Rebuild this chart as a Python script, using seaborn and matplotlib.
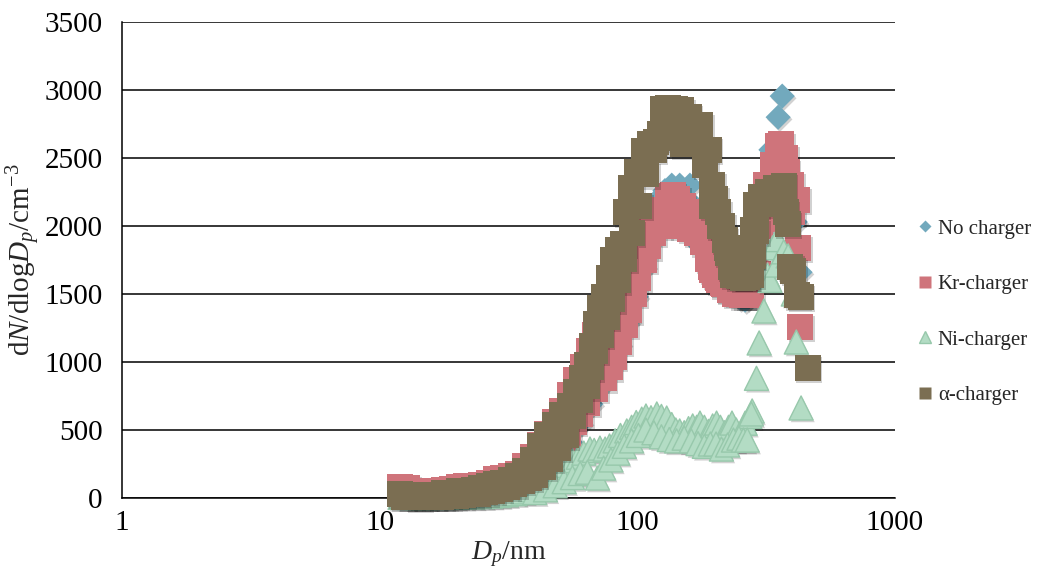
import matplotlib
matplotlib.use("Agg")
import matplotlib.pyplot as plt
import matplotlib.patheffects as pe
from matplotlib.lines import Line2D
from matplotlib.ticker import FixedLocator, FixedFormatter, NullLocator
import pandas as pd
import seaborn as sns

# ---- particle size distributions (two scans per charger, dN/dlogDp in cm^-3) ----
nocharger_dp = [12.0, 13.0, 14.0, 15.0, 16.0, 17.5, 19.0, 20.5, 22.0, 24.0, 26.0, 28.0, 30.0, 32.5,
                35.0, 37.5, 40.0, 43.0, 46.0, 49.0, 52.0, 55.5, 59.0, 63.0, 67.0, 71.0, 75.0, 79.0,
                83.0, 88.0, 93.0, 98.0, 103.0, 107.0, 114.0, 121.0, 128.0, 136.0, 146.0, 160.0,
                170.0, 178.0, 186.0, 194.0, 203.0, 214.0, 226.0, 240.0, 252.0, 262.0, 275.0, 290.0,
                310.0, 330.0, 338.0, 352.0, 365.0, 385.0, 410.0, 428.0,
                45.0, 50.0, 55.0, 60.0, 66.0, 72.0, 78.0, 85.0, 92.0, 99.0, 106.0, 114.0, 122.0,
                131.0, 141.0, 152.0, 164.0, 176.0, 188.0, 200.0, 215.0, 232.0, 250.0, 268.0, 285.0,
                305.0, 325.0, 345.0, 370.0, 395.0]
nocharger_dn = [40, 30, 25, 25, 30, 35, 40, 45, 55, 65, 80, 100, 115, 140,
                170, 220, 290, 370, 450, 530, 620, 730, 850, 980, 1120, 1260, 1400, 1530,
                1650, 1760, 1850, 1930, 2000, 2040, 2120, 2200, 2260, 2300, 2300, 2300,
                2130, 2000, 1880, 1760, 1680, 1610, 1560, 1510, 1480, 1455, 1560, 1900,
                2250, 2560, 2500, 2800, 2955, 2375, 2030, 1660,
                170, 290, 410, 550, 690, 830, 960, 1130, 1300, 1480, 1700, 1900, 2000,
                2080, 2060, 2020, 1960, 1850, 1720, 1630, 1560, 1500, 1470, 1470, 1650,
                2000, 2300, 2450, 2350, 2100]

kr_dp = [12.0, 12.8, 13.7, 14.6, 15.6, 16.7, 17.8, 19.0, 20.3, 21.7, 23.2, 24.8, 26.5, 28.3,
         30.2, 32.3, 34.5, 36.8, 39.3, 42.0, 44.8, 48.0, 51.2, 54.8, 58.0, 61.5, 65.0, 68.5,
         72.0, 76.0, 80.0, 84.0, 88.0, 92.0, 96.0, 100.0, 104.0, 108.0, 113.0, 118.0, 124.0,
         131.0, 137.0, 143.0, 150.0, 158.0, 166.0, 175.0, 182.0, 188.0, 194.0, 200.0, 208.0,
         216.0, 228.0, 240.0, 255.0, 270.0, 285.0, 300.0, 315.0, 335.0, 350.0, 362.0, 375.0,
         395.0, 417.0, 420.0, 428.0,
         45.0, 48.0, 51.0, 54.0, 56.6, 60.0, 64.0, 68.6, 74.0, 78.0, 81.0, 85.0, 89.5, 93.0,
         97.0, 101.0, 106.0, 110.0, 115.0, 122.0, 130.0, 140.0, 150.0, 160.0, 170.0, 180.0,
         188.0, 195.0, 205.0, 215.0, 228.0, 245.0, 262.0, 277.0, 295.0, 312.0, 330.0, 345.0,
         365.0, 380.0, 400.0]
kr_dn = [80, 75, 50, 45, 48, 55, 60, 65, 78, 85, 85, 95, 110, 140,
         150, 165, 180, 235, 300, 390, 470, 560, 640, 760, 870, 960, 1080, 1200,
         1330, 1470, 1560, 1620, 1700, 1780, 1850, 1900, 1950, 2000, 2050, 2080, 2120,
         2220, 2230, 2200, 2150, 2100, 2050, 2000, 1900, 1800, 1700, 1640, 1600,
         1570, 1530, 1500, 1490, 1490, 1700, 2000, 2300, 2450, 2590, 2600, 2500,
         2300, 2190, 1840, 1257,
         180, 250, 330, 420, 560, 620, 700, 800, 880, 960, 1040, 1150, 1270, 1380,
         1500, 1620, 1750, 1850, 1950, 2000, 2050, 2050, 2000, 1980, 1950, 1880,
         1760, 1680, 1620, 1580, 1540, 1510, 1490, 1490, 1650, 2050, 2200, 2350,
         2480, 2400, 2100]

ni_dp = [12.0, 13.0, 14.0, 15.0, 16.5, 18.0, 19.5, 21.0, 23.0, 25.0, 27.0, 29.0, 31.0, 33.5,
         36.0, 38.5, 41.0, 44.0, 47.0, 50.0, 53.0, 56.0, 59.0, 62.0, 65.5, 68.0, 71.6, 75.0,
         78.0, 82.0, 86.0, 91.0, 95.0, 99.0, 104.0, 108.0, 113.0, 119.0, 124.0, 130.0, 136.0,
         141.0, 146.0, 152.0, 158.0, 164.0, 170.0, 175.0, 182.0, 189.0, 196.0, 203.0, 210.0,
         218.0, 226.0, 233.0, 242.0, 252.0, 262.0, 273.0, 279.0,
         40.0, 44.0, 48.0, 52.0, 56.0, 60.0, 64.0, 70.0, 74.0, 79.0, 84.0, 89.0, 95.0, 101.0,
         108.0, 116.0, 124.0, 133.0, 142.0, 152.0, 162.0, 172.0, 182.0, 192.0, 202.0, 212.0,
         224.0, 236.0, 248.0, 258.0, 267.0,
         277.0, 290.0, 297.0, 310.0, 320.0, 327.0, 335.0, 348.0, 350.0, 370.0, 385.0, 403.0,
         414.0, 432.0]
ni_dn = [5, 3, 2, 2, 3, 4, 5, 6, 8, 10, 14, 18, 24, 32,
         45, 62, 85, 115, 160, 200, 240, 275, 300, 330, 360, 350, 367, 360,
         383, 420, 460, 493, 520, 555, 580, 603, 590, 618, 600, 588, 540,
         500, 493, 480, 510, 530, 520, 551, 520, 490, 530, 551, 520,
         480, 520, 551, 500, 470, 550, 600, 640,
         40, 60, 90, 120, 150, 180, 190, 147, 220, 280, 330, 380, 420, 460,
         500, 480, 450, 430, 420, 440, 420, 400, 380, 397, 397, 360,
         390, 426, 440, 426, 426,
         618, 880, 1140, 1375, 1640, 1600, 1840, 1713, 1900, 1810, 1780, 1500,
         1147, 662]

alpha_dp = [12.0, 12.8, 13.7, 14.6, 15.6, 16.7, 17.8, 19.0, 20.3, 21.7, 23.2, 24.8, 26.5, 28.3,
            30.2, 32.3, 34.5, 36.8, 39.3, 42.0, 44.8, 48.0, 51.2, 54.8, 57.8, 61.0, 64.0, 66.5,
            69.0, 71.5, 74.0, 77.5, 80.5, 84.0, 88.0, 90.5, 94.6, 100.0, 105.7, 112.0, 118.0,
            122.0, 126.0, 132.0, 140.0, 148.0, 158.0, 168.0, 175.0, 189.0, 195.0, 200.0, 206.0,
            213.0, 218.0, 224.0, 230.0, 236.0, 247.0, 258.0, 267.0, 277.0, 278.0, 281.0, 290.0,
            303.0, 320.0, 345.0, 370.0, 383.0, 403.0, 416.0, 458.0,
            12.4, 13.3, 14.2, 15.1, 16.2, 17.3, 18.4, 19.7, 21.0, 22.5, 24.0, 25.6, 27.4, 29.2,
            31.2, 33.3, 35.6, 38.0, 40.0, 43.0, 46.0, 49.4, 52.7, 56.3, 60.1, 63.5, 66.0, 68.5,
            72.0, 76.0, 80.0, 84.0, 89.0, 95.0, 101.6, 108.4, 115.8, 123.6, 132.0, 141.0, 150.5,
            160.7, 171.6, 183.0, 195.7, 209.0, 223.0, 236.0, 250.0, 265.0, 280.0, 290.0, 310.0,
            335.0, 355.0, 377.0, 392.0, 430.0]
alpha_dn = [30, 25, 20, 18, 20, 25, 35, 40, 48, 52, 58, 70, 88, 100,
            112, 130, 160, 200, 280, 380, 460, 540, 610, 680, 780, 880, 980, 1120,
            1280, 1400, 1480, 1620, 1750, 1820, 1870, 2100, 2280, 2400, 2550, 2600, 2620,
            2680, 2860, 2870, 2860, 2850, 2800, 2740, 2740, 2560, 2300, 2200, 2100,
            2000, 1900, 1800, 1700, 1640, 1630, 1620, 1625, 1640, 1790, 1970, 2155,
            2210, 2250, 2280, 2295, 2015, 1670, 1490, 955,
            8, 6, 5, 6, 8, 10, 12, 15, 20, 26, 32, 42, 52, 65,
            80, 100, 125, 150, 170, 230, 290, 370, 460, 600, 720, 820, 960, 1080,
            1200, 1330, 1460, 1600, 1760, 1950, 2150, 2380, 2560, 2650, 2740, 2720, 2600,
            2650, 2700, 2450, 2150, 2000, 1840, 1700, 1640, 1630, 1780, 1960, 2160,
            2250, 2230, 2100, 1700, 1480]

labels = ["No charger", "Kr-charger", "Ni-charger", "\u03b1-charger"]
colors = ["#72a9bd", "#cf747b", "#b3dcc4", "#7b6e52"]
x_ticks = [1, 10, 100, 1000]
x_ticklabels = ["1", "10", "100", "1000"]
y_ticks = [0, 500, 1000, 1500, 2000, 2500, 3000, 3500]

sns.set_style("white")
plt.rcParams["font.family"] = ["Liberation Serif", "DejaVu Serif"]
plt.rcParams["mathtext.fontset"] = "custom"
plt.rcParams["mathtext.rm"] = "Liberation Serif"
plt.rcParams["mathtext.it"] = "Liberation Serif:italic"

fig = plt.figure(figsize=(10.37, 5.86), dpi=100)
ax = fig.add_axes([122 / 1037, 1 - 498 / 586, (895 - 122) / 1037, (498 - 22) / 586])

series = [
    (nocharger_dp, nocharger_dn, "D", 165, colors[0], "none", 0.0),
    (kr_dp, kr_dn, "s", 350, colors[1], "none", 0.0),
    (ni_dp, ni_dn, "^", 300, colors[2], "#97c8ab", 1.0),
    (alpha_dp, alpha_dn, "s", 350, colors[3], "none", 0.0),
]
shadow = [pe.SimplePatchShadow(offset=(1.2, -1.6), shadow_rgbFace="black", alpha=0.18), pe.Normal()]
for dp, dn, marker, size, face, edge, lw in series:
    frame = pd.DataFrame({"dp": dp, "dn": dn})
    sns.scatterplot(data=frame, x="dp", y="dn", marker=marker, s=size, color=face,
                    edgecolor=edge, linewidth=lw, legend=False, ax=ax, zorder=3)
    coll = ax.collections[-1]
    coll.set_path_effects(shadow)
    coll.set_clip_on(False)

ax.set_xscale("log")
ax.set_xlim(1, 1000)
ax.set_ylim(0, 3500)
ax.xaxis.set_major_locator(FixedLocator(x_ticks))
ax.xaxis.set_major_formatter(FixedFormatter(x_ticklabels))
ax.xaxis.set_minor_locator(NullLocator())
ax.set_yticks(y_ticks)
ax.yaxis.grid(True, color="black", linewidth=1.1)
ax.xaxis.grid(False)
ax.set_axisbelow(True)
for side in ["top", "right"]:
    ax.spines[side].set_visible(False)
for side in ["left", "bottom"]:
    ax.spines[side].set_color("black")
    ax.spines[side].set_linewidth(1.1)
ax.tick_params(axis="both", direction="out", length=5, width=1.1, color="black",
               labelsize=21, labelcolor="black")
ax.tick_params(axis="y", pad=9)
ax.tick_params(axis="x", pad=4)

ax.set_xlabel(r"$D_p$/nm", fontsize=20, labelpad=2)
ax.set_ylabel(r"d$N$/dlog$D_p$/cm$^{-3}$", fontsize=21, labelpad=1)

handles = [
    Line2D([], [], linestyle="none", marker="D", markersize=6, markerfacecolor=colors[0], markeredgecolor="none"),
    Line2D([], [], linestyle="none", marker="s", markersize=8, markerfacecolor=colors[1], markeredgecolor="none"),
    Line2D([], [], linestyle="none", marker="^", markersize=8, markerfacecolor=colors[2], markeredgecolor="#97c8ab"),
    Line2D([], [], linestyle="none", marker="s", markersize=8, markerfacecolor=colors[3], markeredgecolor="none"),
]
fig.legend(handles, labels, loc="center left", bbox_to_anchor=(918 / 1037, 1 - 312 / 586),
           frameon=False, fontsize=15, handlelength=0.7, handletextpad=0.25,
           labelspacing=1.72, borderaxespad=0, borderpad=0)

fig.savefig("out.png", dpi=100)
